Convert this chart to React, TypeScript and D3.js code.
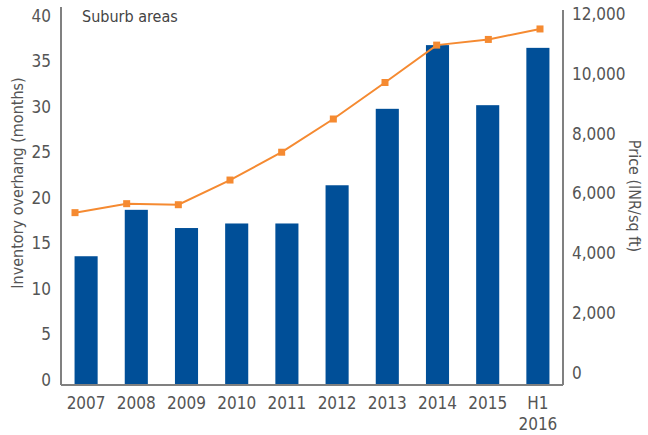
import { useEffect, useRef } from "react";
import * as d3 from "d3";

const years = ["2007", "2008", "2009", "2010", "2011", "2012", "2013", "2014", "2015", "H1 2016"];
const overhang = [13.6, 18.7, 16.7, 17.2, 17.2, 21.4, 29.8, 36.8, 30.2, 36.5];
const price = [5360, 5660, 5625, 6450, 7380, 8490, 9710, 10960, 11150, 11500];
const leftTicks = [0, 5, 10, 15, 20, 25, 30, 35, 40];
const rightTicks = [0, 2000, 4000, 6000, 8000, 10000, 12000];

const FONT = "'Liberation Sans Narrow', 'DejaVu Sans Condensed', Roboto, sans-serif";
const TEXT = "#555555";

const App = () => {
  const svgRef = useRef(null);

  useEffect(() => {
    const svg = d3.select(svgRef.current);
    svg.selectAll("*").remove();

    const left = 61, right = 563, bottom = 385;

    const x = d3.scaleBand().domain(years).range([left, right]).paddingInner(0.54).paddingOuter(0.27);
    // the line in the source sits on its own slightly wider spacing
    const xLine = d3.scalePoint().domain(years).range([left + 14, right - 23]);
    const yL = d3.scaleLinear().domain([0, 40]).range([380, 16]);
    const yR = d3.scaleLinear().domain([0, 12000]).range([373, 14]);

    // bars
    svg.append("g")
      .selectAll("rect")
      .data(years)
      .join("rect")
      .attr("x", (d) => x(d))
      .attr("y", (d, i) => yL(overhang[i]))
      .attr("width", x.bandwidth())
      .attr("height", (d, i) => bottom - yL(overhang[i]))
      .attr("fill", "#004F98");

    // axes lines
    svg.append("line").attr("x1", left).attr("x2", left).attr("y1", 7).attr("y2", bottom)
      .attr("stroke", "#808080").attr("stroke-width", 2);
    svg.append("line").attr("x1", right).attr("x2", right).attr("y1", 10).attr("y2", bottom)
      .attr("stroke", "#808080").attr("stroke-width", 2);
    svg.append("line").attr("x1", left).attr("x2", right).attr("y1", bottom).attr("y2", bottom)
      .attr("stroke", "#808080").attr("stroke-width", 2);

    // price line
    const line = d3.line<number>()
      .x((d, i) => xLine(years[i]))
      .y((d) => yR(d));
    svg.append("path")
      .datum(price)
      .attr("d", line)
      .attr("fill", "none")
      .attr("stroke", "#F58A31")
      .attr("stroke-width", 2);
    svg.append("g")
      .selectAll("rect")
      .data(price)
      .join("rect")
      .attr("x", (d, i) => xLine(years[i]) - 3.5)
      .attr("y", (d) => yR(d) - 3.5)
      .attr("width", 7)
      .attr("height", 7)
      .attr("fill", "#F58A31");

    // left tick labels
    svg.append("g")
      .selectAll("text")
      .data(leftTicks)
      .join("text")
      .attr("x", 51)
      .attr("y", (d) => yL(d))
      .attr("dy", "0.35em")
      .attr("text-anchor", "end")
      .text((d) => d);

    // right tick labels
    svg.append("g")
      .selectAll("text")
      .data(rightTicks)
      .join("text")
      .attr("x", 572)
      .attr("y", (d) => yR(d))
      .attr("dy", "0.35em")
      .attr("text-anchor", "start")
      .text((d) => d3.format(",")(d));

    // category labels
    svg.append("g")
      .selectAll("text")
      .data(years)
      .join("text")
      .attr("x", (d) => x(d) + x.bandwidth() / 2)
      .attr("y", 403)
      .attr("text-anchor", "middle")
      .each(function (d) {
        const parts = d.split(" ");
        const t = d3.select(this);
        parts.forEach((p, k) => {
          t.append("tspan")
            .attr("x", x(d) + x.bandwidth() / 2)
            .attr("dy", k === 0 ? "0.35em" : "21")
            .text(p);
        });
      });

    svg.selectAll("text").attr("font-family", FONT).attr("font-size", 17).attr("fill", TEXT);

    // title
    svg.append("text")
      .attr("x", 82)
      .attr("y", 22)
      .attr("font-family", FONT)
      .attr("font-size", 16)
      .attr("fill", "#444444")
      .text("Suburb areas");

    // axis titles
    svg.append("text")
      .attr("transform", "translate(23,183) rotate(-90)")
      .attr("text-anchor", "middle")
      .attr("font-family", FONT)
      .attr("font-size", 16)
      .attr("fill", TEXT)
      .text("Inventory overhang (months)");
    svg.append("text")
      .attr("transform", "translate(629,196) rotate(90)")
      .attr("text-anchor", "middle")
      .attr("font-family", FONT)
      .attr("font-size", 16)
      .attr("fill", TEXT)
      .text("Price (INR/sq ft)");
  }, []);

  return (
    <div style={{ position: "absolute", left: 0, top: 0, background: "#fff" }}>
      <svg ref={svgRef} width={648} height={435} style={{ display: "block" }}></svg>
    </div>
  );
};

export default App;
